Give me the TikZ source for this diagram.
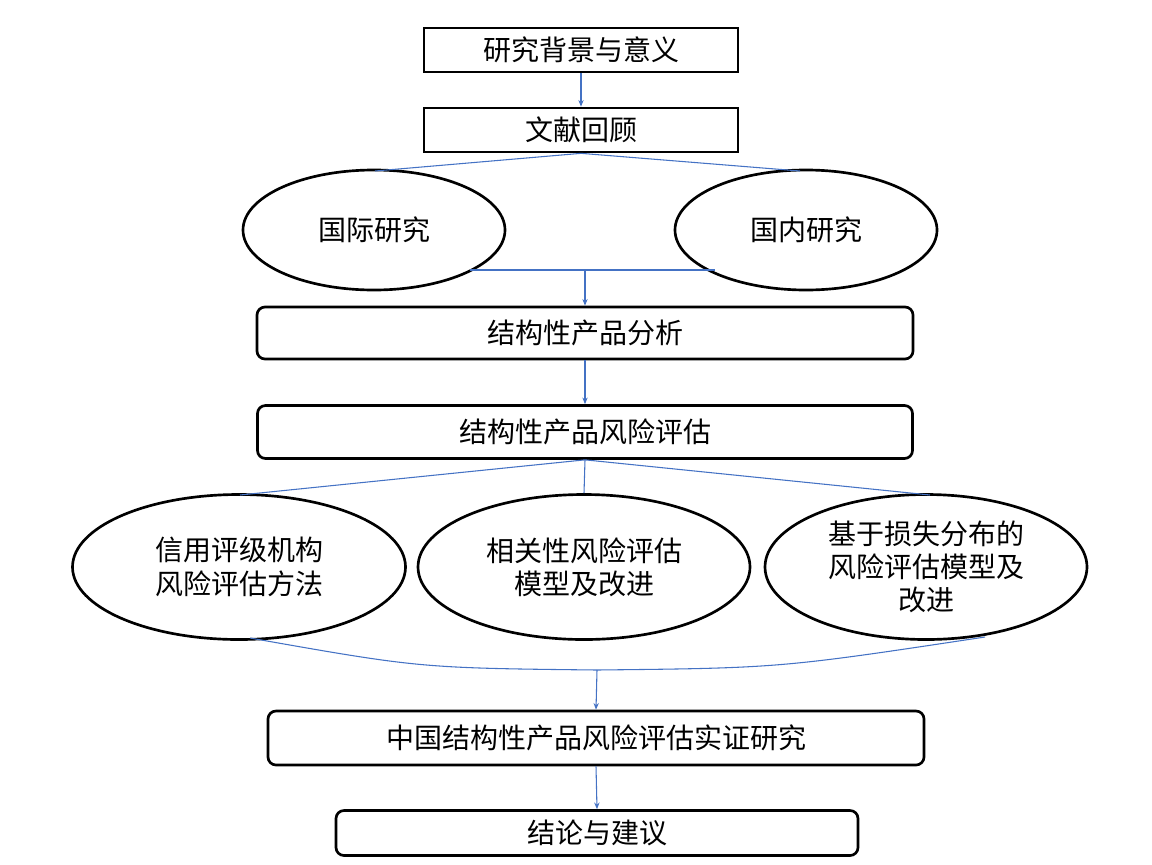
\documentclass[tikz,border=0pt]{standalone}
\usepackage{fontspec}
\setmainfont{Noto Sans CJK SC}
\usetikzlibrary{arrows.meta,shapes.geometric}
\definecolor{ln}{RGB}{68,114,196}
\begin{document}
\begin{tikzpicture}[x=0.75pt,y=-0.75pt,
  bx/.style={draw,line width=2pt,minimum height=0pt,font=\fontsize{21}{25}\selectfont},
  el/.style={draw,ellipse,line width=2pt,inner sep=0pt,font=\fontsize{21}{25}\selectfont,align=center},
  cn/.style={ln,line width=0.8pt},
  ar/.style={cn,-{Stealth[length=5pt,width=4pt]}}]
\useasboundingbox (0,0) rectangle (1152,864);
\node[bx,minimum width=314*0.75pt,minimum height=44*0.75pt] (b1) at (581,50) {研究背景与意义};
\node[bx,minimum width=314*0.75pt,minimum height=44*0.75pt] (b2) at (581,130) {文献回顾};
\node[el,minimum width=262*0.75pt,minimum height=120*0.75pt] (e1) at (374,230) {国际研究};
\node[el,minimum width=262*0.75pt,minimum height=120*0.75pt] (e2) at (806,230) {国内研究};
\node[bx,rounded corners=6pt,minimum width=656*0.75pt,minimum height=52*0.75pt] (b3) at (585,333) {结构性产品分析};
\node[bx,rounded corners=6pt,minimum width=655*0.75pt,minimum height=53*0.75pt] (b4) at (585,432) {结构性产品风险评估};
\node[el,minimum width=333*0.75pt,minimum height=145*0.75pt] (e3) at (239,567) {信用评级机构\\风险评估方法};
\node[el,minimum width=332*0.75pt,minimum height=145*0.75pt] (e4) at (584,567) {相关性风险评估\\模型及改进};
\node[el,minimum width=322*0.75pt,minimum height=145*0.75pt] (e5) at (926,567) {基于损失分布的\\风险评估模型及\\改进};
\node[bx,rounded corners=6pt,minimum width=656*0.75pt,minimum height=54*0.75pt] (b5) at (596,738) {中国结构性产品风险评估实证研究};
\node[bx,rounded corners=6pt,minimum width=522*0.75pt,minimum height=45*0.75pt] (b6) at (597,833) {结论与建议};
\draw[ar] (b1.south) -- (b2.north);
\coordinate (t1) at (375,171); \coordinate (t2) at (800,171);
\draw[cn] (t1) -- (b2.south) -- (t2);
\coordinate (h1) at (470,270); \coordinate (h2) at (715,270); \coordinate (hm) at (585,270);
\draw[cn] (h1) -- (h2);
\draw[ar] (hm) -- (b3.north);
\draw[ar] (b3.south) -- (b4.north);
\coordinate (u1) at (240,495); \coordinate (u3) at (930,495);
\draw[cn] (u1) -- (b4.south) -- (u3);
\draw[cn] (b4.south) -- (e4.north);
\coordinate (c1) at (250,638); \coordinate (cm) at (597,670); \coordinate (c3) at (985,637);
\draw[cn] (c1) .. controls (420,668) .. (cm) .. controls (780,668) .. (c3);
\draw[ar] (cm) -- (b5.north);
\draw[ar] (b5.south) -- (b6.north);
\end{tikzpicture}
\end{document}
